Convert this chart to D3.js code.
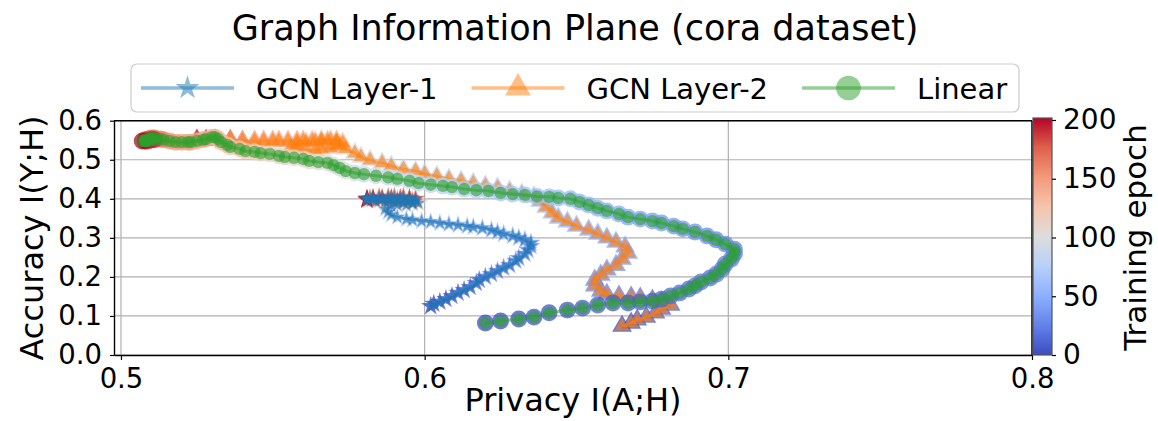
<!DOCTYPE html>
<html><head><meta charset="utf-8">
<script src="https://cdn.jsdelivr.net/npm/d3@7"></script>
<style>body{margin:0;background:#fff} text{font-family:"DejaVu Sans",sans-serif}</style>
</head><body><svg id="c" width="1158" height="421"></svg>
<script>
const xTicks=[0.5,0.6,0.7,0.8];
const yTicks=[0,0.1,0.2,0.3,0.4,0.5,0.6];
const cbTicks=[0,50,100,150,200];
const seriesNames=["GCN Layer-1","GCN Layer-2","Linear"];
const seriesColors=["#1f77b4","#ff7f0e","#2ca02c"];

const l1Epoch=[0,2,4,6,8,10,12,14,16,18,20,22,24,26,28,30,32,34,36,38,40,42,44,46,48,50,52,54,56,58,60,62,64,66,68,70,72,74,76,78,80,82,85,88,91,94,97,100,103,106,109,112,115,118,121,124,127,130,133,136,139,142,145,148,151,154,157,160,163,166,169,172,175,178,181,184,187,190,193,196,199];
const l1X=[.602,.603,.605,.607,.609,.611,.613,.615,.617,.618,.620,.622,.624,.626,.628,.630,.631,.633,.634,.635,.635,.633,.631,.629,.626,.624,.622,.619,.616,.614,.611,.608,.605,.602,.599,.596,.594,.591,.589,.588,.587,.589,.591,.594,.596,.598,.596,.593,.590,.587,.584,.582,.581,.583,.585,.588,.591,.593,.596,.597,.596,.593,.591,.588,.585,.583,.581,.582,.585,.588,.590,.593,.595,.597,.595,.592,.589,.586,.583,.581,.581];
const l1Y=[.125,.131,.136,.143,.151,.159,.166,.174,.184,.192,.200,.207,.215,.223,.230,.241,.248,.259,.269,.279,.287,.295,.300,.305,.310,.315,.320,.325,.328,.330,.333,.335,.338,.341,.343,.346,.348,.353,.359,.366,.374,.382,.384,.384,.387,.389,.389,.389,.392,.392,.394,.397,.400,.400,.400,.400,.400,.400,.397,.394,.392,.392,.394,.394,.397,.400,.400,.402,.405,.405,.405,.405,.402,.400,.400,.402,.402,.402,.402,.400,.397];

const l2Epoch=[0,2,4,6,8,10,12,14,16,18,20,22,24,26,28,30,32,34,36,38,40,42,44,46,48,50,52,54,56,58,60,62,64,66,68,70,72,74,76,78,80,82,84,86,88,90,92,94,96,98,100,102,104,106,108,110,112,114,116,118,120,122,124,126,128,130,132,134,136,138,140,142,144,146,148,150,160,170,180,190,199];
const l2X=[.665,.668,.670,.673,.676,.678,.681,.678,.675,.671,.668,.664,.660,.658,.656,.656,.658,.660,.663,.665,.667,.666,.663,.660,.657,.654,.650,.647,.644,.642,.640,.638,.636,.632,.628,.624,.620,.616,.612,.608,.604,.600,.597,.593,.589,.586,.582,.579,.577,.574,.572,.571,.569,.566,.564,.561,.558,.556,.558,.561,.564,.566,.569,.571,.573,.571,.568,.566,.563,.560,.558,.555,.552,.550,.547,.544,.540,.536,.531,.528,.525];
const l2Y=[.074,.082,.090,.097,.108,.118,.128,.136,.141,.146,.149,.151,.156,.164,.177,.192,.205,.218,.230,.246,.261,.277,.289,.300,.310,.320,.330,.341,.351,.364,.379,.394,.405,.412,.420,.428,.433,.440,.446,.451,.458,.464,.471,.476,.484,.492,.499,.507,.517,.528,.538,.548,.551,.551,.548,.545,.540,.533,.528,.525,.525,.528,.530,.535,.543,.548,.548,.545,.548,.548,.548,.548,.548,.548,.548,.548,.548,.551,.551,.551,.551];

const lnEpoch=[0,1,2,3,4,5,6,7,8,9,10,11,12,13,14,15,16,17,18,19,20,21,22,23,24,26,28,30,32,34,36,38,40,42,44,46,48,50,52,54,56,58,60,62,64,66,68,70,72,74,76,78,80,82,84,86,88,90,92,94,96,98,100,102,104,106,108,110,112,114,116,118,120,122,124,126,128,130,132,134,136,138,140,142,144,146,148,150,154,158,162,166,170,174,178,182,186,190,194,198,199];
const lnX=[.620,.625,.631,.636,.641,.647,.652,.657,.662,.667,.671,.675,.678,.681,.684,.687,.689,.691,.694,.696,.698,.699,.701,.702,.702,.699,.696,.693,.689,.685,.682,.678,.675,.671,.667,.664,.660,.657,.654,.651,.648,.644,.641,.637,.633,.629,.625,.621,.617,.613,.609,.606,.602,.598,.595,.591,.588,.584,.580,.577,.574,.572,.570,.568,.565,.562,.560,.557,.554,.552,.549,.546,.544,.541,.539,.536,.535,.533,.532,.531,.530,.528,.527,.525,.523,.522,.520,.518,.516,.514,.513,.511,.510,.509,.508,.508,.509,.511,.510,.508,.507];
const lnY=[.082,.087,.092,.097,.108,.115,.120,.128,.133,.133,.136,.138,.143,.151,.159,.169,.177,.187,.197,.207,.220,.233,.246,.259,.271,.284,.295,.305,.315,.323,.330,.338,.343,.348,.353,.361,.369,.376,.384,.392,.400,.402,.405,.406,.410,.412,.415,.420,.422,.425,.430,.433,.436,.440,.446,.451,.455,.459,.463,.466,.471,.479,.486,.492,.494,.497,.502,.505,.507,.510,.515,.517,.520,.522,.528,.533,.538,.545,.553,.558,.558,.553,.551,.548,.545,.545,.545,.545,.548,.551,.553,.556,.556,.553,.551,.548,.548,.551,.551,.548,.548];

const cwStops=[0,0.125,0.25,0.375,0.5,0.625,0.75,0.875,1];
const cwColors=["rgb(59,76,192)","rgb(98,130,234)","rgb(141,176,254)","rgb(184,208,249)","rgb(221,221,221)","rgb(245,196,173)","rgb(244,154,123)","rgb(222,96,76)","rgb(180,4,38)"];

const svg=d3.select("#c");
svg.append("rect").attr("width",1158).attr("height",421).attr("fill","#fff");

const x=d3.scaleLinear().domain([0.4977,0.8]).range([114,1032]);
const y=d3.scaleLinear().domain([0,0.6]).range([355,120.7]);
const cw=d3.scaleLinear().domain(cwStops.map(t=>t*200)).range(cwColors).interpolate(d3.interpolateRgb).clamp(true);

// grid
const grid=svg.append("g");
grid.selectAll(".gx").data(xTicks).join("line")
  .attr("x1",d=>x(d)).attr("x2",d=>x(d)).attr("y1",y(0.6)).attr("y2",y(0))
  .attr("stroke","#b0b0b0").attr("stroke-width",1.2);
grid.selectAll(".gy").data(yTicks).join("line")
  .attr("x1",x.range()[0]).attr("x2",x.range()[1]).attr("y1",d=>y(d)).attr("y2",d=>y(d))
  .attr("stroke","#b0b0b0").attr("stroke-width",1.2);

// series
const series=[
  {e:l1Epoch,xs:l1X,ys:l1Y,sym:d3.symbolStar,size:60,halo:115},
  {e:l2Epoch,xs:l2X,ys:l2Y,sym:d3.symbolTriangle,size:95,halo:170},
  {e:lnEpoch,xs:lnX,ys:lnY,sym:d3.symbolCircle,size:120,halo:225}
];
svg.append("clipPath").attr("id","pc").append("rect")
  .attr("x",114).attr("y",120.7).attr("width",918).attr("height",234.3);
const plot=svg.append("g").attr("clip-path","url(#pc)");
series.forEach((s,k)=>{
  const pts=s.e.map((ep,i)=>({ep,px:x(s.xs[i]),py:y(s.ys[i])}));
  const gs=plot.append("g");
  gs.selectAll("path.h").data(pts).join("path").attr("class","h")
    .attr("d",d3.symbol(s.sym,s.halo)).attr("transform",d=>`translate(${d.px},${d.py})`)
    .attr("fill",d=>cw(d.ep)).attr("opacity",0.75);
  gs.append("path").datum(pts)
    .attr("d",d3.line().x(d=>d.px).y(d=>d.py))
    .attr("fill","none").attr("stroke",seriesColors[k]).attr("stroke-width",3).attr("stroke-opacity",0.5);
  gs.selectAll("path.m").data(pts).join("path").attr("class","m")
    .attr("d",d3.symbol(s.sym,s.size)).attr("transform",d=>`translate(${d.px},${d.py})`)
    .attr("fill",seriesColors[k]).attr("fill-opacity",0.6);
});

// axes
const fmt=d3.format(".1f");
const xa=svg.append("g").attr("transform","translate(0,355)")
  .call(d3.axisBottom(x).tickValues(xTicks).tickFormat(fmt).tickSize(5).tickSizeOuter(0).tickPadding(8));
const ya=svg.append("g").attr("transform","translate(114,0)")
  .call(d3.axisLeft(y).tickValues(yTicks).tickFormat(fmt).tickSize(4).tickSizeOuter(0).tickPadding(8));
[xa,ya].forEach(a=>{
  a.selectAll("text").attr("font-size",27.5).attr("fill","#000").attr("font-family","DejaVu Sans");
  a.selectAll("line").attr("stroke","#000").attr("stroke-width",1.2);
  a.select(".domain").attr("stroke","#000").attr("stroke-width",1.4);
});
svg.append("line").attr("x1",114).attr("x2",1032).attr("y1",120.7).attr("y2",120.7).attr("stroke","#000").attr("stroke-width",1.4);
svg.append("line").attr("x1",1032).attr("x2",1032).attr("y1",120.7).attr("y2",355).attr("stroke","#000").attr("stroke-width",1.4);

// labels
svg.append("text").attr("x",575).attr("y",40).attr("text-anchor","middle").attr("font-size",35).text("Graph Information Plane (cora dataset)");
svg.append("text").attr("x",573).attr("y",411).attr("text-anchor","middle").attr("font-size",32).text("Privacy I(A;H)");
svg.append("text").attr("transform","translate(43,238) rotate(-90)").attr("text-anchor","middle").attr("font-size",32).text("Accuracy I(Y;H)");

// colorbar
const cb=d3.scaleLinear().domain([0,200]).range([355,120]);
const defs=svg.append("defs");
const grad=defs.append("linearGradient").attr("id","cwg").attr("x1",0).attr("y1",1).attr("x2",0).attr("y2",0);
d3.range(0,201,5).forEach(v=>grad.append("stop").attr("offset",v/200).attr("stop-color",cw(v)));
svg.append("rect").attr("x",1033).attr("y",cb(200)-2).attr("width",19).attr("height",cb(0)-cb(200)+2)
  .attr("fill","url(#cwg)").attr("stroke","#555").attr("stroke-width",1.2);
const cba=svg.append("g").attr("transform","translate(1052,0)")
  .call(d3.axisRight(cb).tickValues(cbTicks).tickSize(4).tickSizeOuter(0).tickPadding(7));
cba.select(".domain").remove();
cba.selectAll("text").attr("font-size",28).attr("fill","#000").attr("font-family","DejaVu Sans");
cba.selectAll("line").attr("stroke","#000").attr("stroke-width",1.2);
svg.append("text").attr("transform","translate(1146,237.5) rotate(-90)").attr("text-anchor","middle").attr("font-size",31).text("Training epoch");

// legend
const lg=svg.append("g");
lg.append("rect").attr("x",131).attr("y",64).attr("width",888).attr("height",48).attr("rx",6)
  .attr("fill","#fff").attr("fill-opacity",0.8).attr("stroke","#cccccc").attr("stroke-width",1.2);
const legSyms=[[d3.symbolStar,180],[d3.symbolTriangle,290],[d3.symbolCircle,480]];
seriesNames.forEach((n,k)=>{
  const x0=141+k*330.5;
  lg.append("line").attr("x1",x0).attr("x2",x0+93).attr("y1",88).attr("y2",88)
    .attr("stroke",seriesColors[k]).attr("stroke-width",3.5).attr("stroke-opacity",0.5);
  lg.append("path").attr("d",d3.symbol(legSyms[k][0],legSyms[k][1])).attr("transform",`translate(${x0+46.5},88)`)
    .attr("fill",seriesColors[k]).attr("fill-opacity",0.5);
  lg.append("text").attr("x",x0+115).attr("y",98.5).attr("font-size",29).text(n);
});
</script></body></html>
